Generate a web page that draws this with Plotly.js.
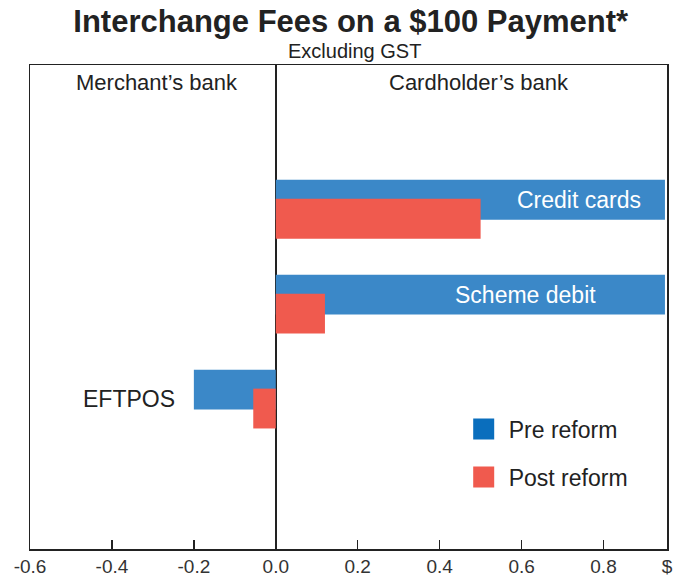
<!DOCTYPE html>
<html>
<head>
<meta charset="utf-8">
<script src="https://cdn.plot.ly/plotly-3.0.1.min.js"></script>
<style>html,body{margin:0;padding:0;background:#fff;}#chart{width:681px;height:579px;}</style>
</head>
<body>
<div id="chart"></div>
<script>
// Data
var categories = ['Credit cards', 'Scheme debit', 'EFTPOS'];
var preReform = [0.95, 0.95, -0.20];
var postReform = [0.50, 0.12, -0.055];
var tickValues = [-0.6, -0.4, -0.2, 0.0, 0.2, 0.4, 0.6, 0.8, 0.955];
var tickLabels = ['-0.6', '-0.4', '-0.2', '0.0', '0.2', '0.4', '0.6', '0.8', '$'];
var seriesNames = ['Pre reform', 'Post reform'];

var blueBar = '#3B88C8';
var redBar = '#F05A4E';
var blueKey = '#0A6EBD';
var redKey = '#F05A4E';
var FONT = 'Liberation Sans, Arial, sans-serif';

var traces = [
  {
    type: 'bar', orientation: 'h', x: preReform, y: categories,
    offset: -0.31, width: 0.42, marker: {color: blueBar},
    showlegend: false, hoverinfo: 'x+y'
  },
  {
    type: 'bar', orientation: 'h', x: postReform, y: categories,
    offset: -0.11, width: 0.42, marker: {color: redBar},
    showlegend: false, hoverinfo: 'x+y'
  },
  {
    type: 'scatter', mode: 'markers', x: [null], y: [null], name: seriesNames[0],
    legendgroup: 'a',
    marker: {symbol: 'square', size: 16, color: blueKey, line: {color: blueKey, width: 5}}
  },
  {
    type: 'scatter', mode: 'markers', x: [null], y: [null], name: seriesNames[1],
    legendgroup: 'b',
    marker: {symbol: 'square', size: 16, color: redKey, line: {color: redKey, width: 5}}
  }
];

var layout = {
  width: 681, height: 579,
  margin: {l: 30, r: 14, t: 65, b: 30},
  paper_bgcolor: '#fff', plot_bgcolor: '#fff',
  font: {family: FONT, color: '#222'},
  barmode: 'overlay',
  title: {
    text: '<b>Interchange Fees on a $100 Payment*</b>',
    font: {family: FONT, size: 31, color: '#222'},
    x: 0.515, xanchor: 'center', y: 0.963, yanchor: 'middle'
  },
  xaxis: {
    range: [-0.6, 0.955],
    tickvals: tickValues, ticktext: tickLabels,
    ticks: 'inside', ticklen: 9, tickcolor: '#222', tickwidth: 1.5,
    showline: true, mirror: true, linecolor: '#222', linewidth: 1.5,
    showgrid: false,
    zeroline: true, zerolinecolor: '#222', zerolinewidth: 1.5,
    tickfont: {family: FONT, size: 19, color: '#333'},
    fixedrange: true
  },
  yaxis: {
    type: 'category', categoryarray: categories,
    range: [3.58, -1.52],
    showticklabels: false, ticks: '',
    showline: true, mirror: true, linecolor: '#222', linewidth: 1.5,
    showgrid: false, zeroline: false, fixedrange: true
  },
  legend: {
    x: 0.673, y: 0.292, xanchor: 'left', yanchor: 'top',
    font: {family: FONT, size: 23, color: '#222'},
    traceorder: 'grouped', tracegroupgap: 15,
    itemwidth: 40,
    bgcolor: 'rgba(0,0,0,0)'
  },
  annotations: [
    {xref: 'paper', yref: 'paper', x: 0.51, y: 1.028, xanchor: 'center', yanchor: 'middle',
     text: 'Excluding GST', showarrow: false, font: {family: FONT, size: 20, color: '#222'}},
    {xref: 'paper', yref: 'paper', x: 0.2, y: 0.963, xanchor: 'center', yanchor: 'middle',
     text: 'Merchant\u2019s bank', showarrow: false, font: {family: FONT, size: 22, color: '#222'}},
    {xref: 'paper', yref: 'paper', x: 0.705, y: 0.963, xanchor: 'center', yanchor: 'middle',
     text: 'Cardholder\u2019s bank', showarrow: false, font: {family: FONT, size: 22, color: '#222'}},
    {xref: 'x', yref: 'y', x: preReform[0], y: categories[0], xanchor: 'right', yanchor: 'middle',
     xshift: -22, yshift: 9.5, text: categories[0], showarrow: false,
     font: {family: FONT, size: 23, color: '#fff'}},
    {xref: 'x', yref: 'y', x: preReform[1], y: categories[1], xanchor: 'right', yanchor: 'middle',
     xshift: -67, yshift: 9.5, text: categories[1], showarrow: false,
     font: {family: FONT, size: 23, color: '#fff'}},
    {xref: 'x', yref: 'y', x: preReform[2], y: categories[2], xanchor: 'right', yanchor: 'middle',
     xshift: -17, yshift: 0, text: categories[2], showarrow: false,
     font: {family: FONT, size: 23, color: '#222'}}
  ]
};

Plotly.newPlot('chart', traces, layout, {displayModeBar: false, staticPlot: true});
</script>
</body>
</html>
